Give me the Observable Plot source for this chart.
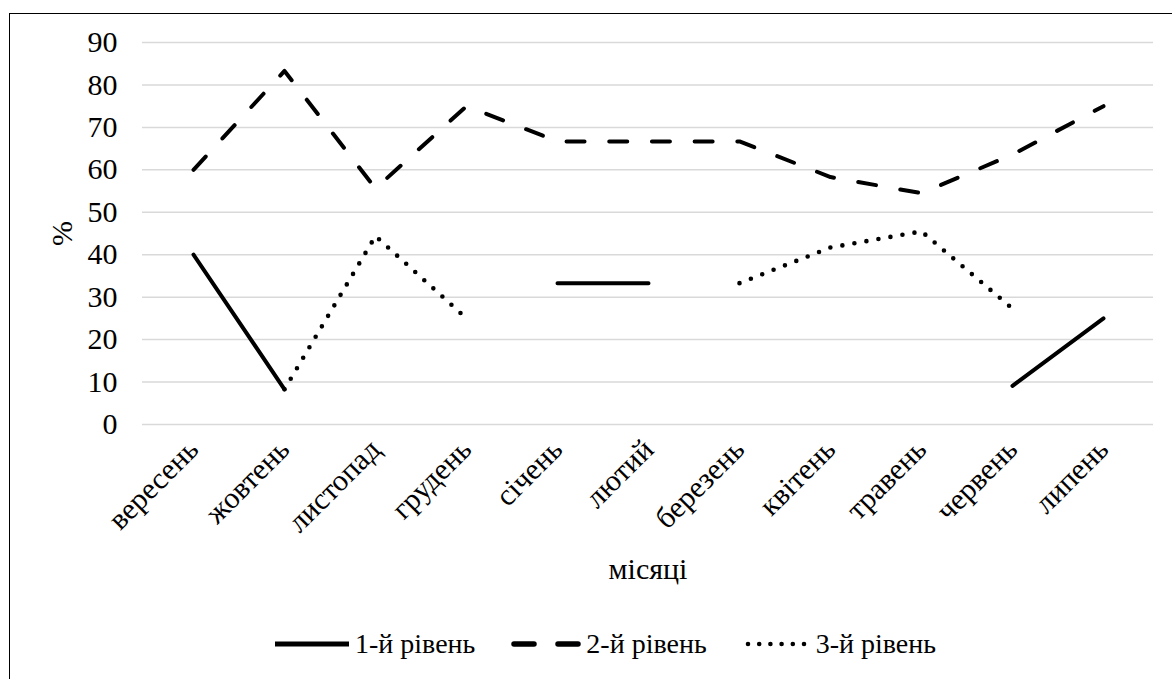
<!DOCTYPE html>
<html><head><meta charset="utf-8">
<script src="https://cdn.jsdelivr.net/npm/d3@7"></script>
<script src="https://cdn.jsdelivr.net/npm/@observablehq/plot@0.6"></script>
<style>
body{margin:0;padding:0;background:#fff;}
#frame{position:absolute;left:9px;top:13px;width:1250px;height:760px;border:1.5px solid #000;box-sizing:border-box;}
#chart{position:absolute;left:0;top:0;}
#legend{position:absolute;top:628px;left:272px;display:flex;align-items:center;color:#000;white-space:nowrap;}
#legend .item{display:flex;align-items:center;}
#legend svg{display:block;}
</style>
</head><body style="font-family:'Liberation Serif'">
<div id="frame"></div>
<div id="chart" style="font-family:'Liberation Serif'"></div>
<div id="legend" style="font-family:'Liberation Serif';font-size:28px"></div>
<script>
const months = ["вересень","жовтень","листопад","грудень","січень","лютий","березень","квітень","травень","червень","липень"];
const level1 = [40, 8.3, null, null, 33.3, 33.3, null, null, null, 9.1, 25];
const level2 = [60, 83.3, 55.6, 75, 66.7, 66.7, 66.7, 58.3, 54.5, 63.6, 75];
const level3 = [null, 8.3, 44.4, 25, null, null, 33.3, 41.7, 45.5, 27.3, null];
const yTicks = [0, 10, 20, 30, 40, 50, 60, 70, 80, 90];
const seriesNames = ["1-й рівень", "2-й рівень", "3-й рівень"];
const xLabel = "місяці";
const yLabel = "%";

const toRows = arr => months.map((m, i) => ({month: m, value: arr[i]}));
const rows1 = toRows(level1), rows2 = toRows(level2), rows3 = toRows(level3);

const styles = [
  {stroke: "#000", strokeWidth: 4, strokeLinecap: "round"},
  {stroke: "#000", strokeWidth: 4, strokeLinecap: "round", strokeDasharray: "18 24.7"},
  {stroke: "#000", strokeWidth: 4.6, strokeLinecap: "round", strokeDasharray: "0 12.2"}
];

const chart = Plot.plot({
  width: 1172,
  height: 620,
  marginLeft: 142,
  marginRight: 19,
  marginTop: 42,
  marginBottom: 196,
  style: "font-family:'Liberation Serif';font-size:30px;background:transparent;overflow:visible",
  x: {type: "point", domain: months, padding: 0.5},
  y: {domain: [0, 90]},
  marks: [
    Plot.ruleY(yTicks, {stroke: "#d9d9d9", strokeWidth: 1.5}),
    Plot.axisY({ticks: yTicks, tickSize: 0, tickPadding: 25, label: null, fontSize: 30, fill: "#000"}),
    Plot.axisX({tickSize: 0, tickPadding: 20, tickRotate: -45, label: null, fontSize: 30, fill: "#000"}),
    Plot.text([yLabel], {frameAnchor: "left", dx: -80, rotate: -90, fontSize: 30, fill: "#000", textAnchor: "middle"}),
    Plot.text([xLabel], {frameAnchor: "bottom", dy: 154, fontSize: 30, fill: "#000", textAnchor: "middle"}),
    Plot.line(rows1, {x: "month", y: "value", ...styles[0]}),
    Plot.line(rows2, {x: "month", y: "value", ...styles[1]}),
    Plot.line(rows3, {x: "month", y: "value", ...styles[2]})
  ]
});
chart.setAttribute("font-family", "Liberation Serif");
chart.querySelectorAll("g, text").forEach(el => {
  el.setAttribute("font-family", "Liberation Serif");
  el.style.fontFamily = "'Liberation Serif'";
});
document.getElementById("chart").appendChild(chart);

// legend
const legend = d3.select("#legend");
const swatchW = [74, 66, 62];
const gaps = [36, 38, 0];
seriesNames.forEach((name, i) => {
  const item = legend.append("div").attr("class", "item").style("margin-right", gaps[i] + "px");
  const svg = item.append("svg").attr("width", swatchW[i] + 6).attr("height", 12);
  let dash = null;
  if (i === 1) dash = "20 24";
  if (i === 2) dash = "0 11.2";
  svg.append("line")
    .attr("x1", 3).attr("x2", swatchW[i] + 3).attr("y1", 6).attr("y2", 6)
    .attr("stroke", "#000").attr("stroke-width", i === 0 ? 5 : (i === 1 ? 5.5 : 4.6))
    .attr("stroke-linecap", i === 0 ? "butt" : "round")
    .attr("stroke-dasharray", dash);
  item.append("span").style("margin-left", "3px").style("font-family", "Liberation Serif").text(name);
});
</script>
</body></html>
